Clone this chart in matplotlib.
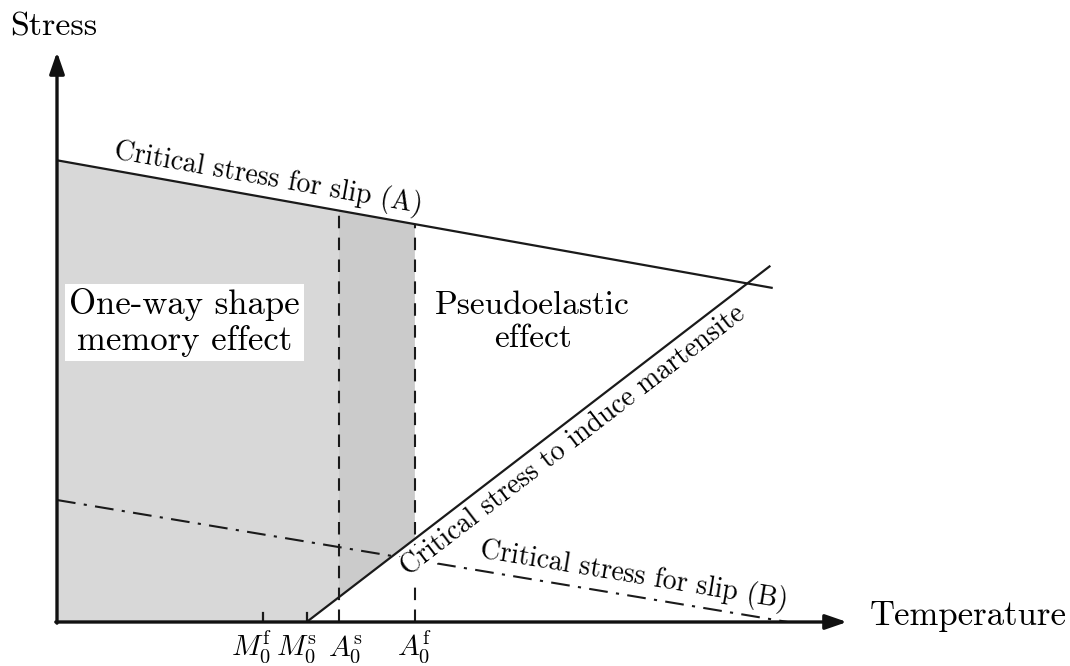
import numpy as np
import matplotlib
matplotlib.use("Agg")
import matplotlib.pyplot as plt
from matplotlib.patches import Polygon

plt.rcParams['mathtext.fontset'] = 'cm'
plt.rcParams['font.family'] = ['cmr10', 'DejaVu Serif']
plt.rcParams['axes.unicode_minus'] = False

# ---- schematic data (temperature / stress, arbitrary units) ----
slipA_T = [0.0, 90.6]
slipA_S = [81.0, 58.6]
mart_T = [31.6, 90.3]
mart_S = [0.0, 62.5]
slipB_T = [0.0, 92.5]
slipB_S = [21.4, 0.0]
char_T = [26.1, 31.6, 35.7, 45.3]          # Mf, Ms, As, Af
char_labels = [r'$M_0^{\mathrm{f}}$', r'$M_0^{\mathrm{s}}$',
               r'$A_0^{\mathrm{s}}$', r'$A_0^{\mathrm{f}}$']
label_shift_px = [-12, -10, 6, 0]

W, H = 1070, 666
fig = plt.figure(figsize=(W / 100, H / 100), dpi=100)
ax = fig.add_axes([57 / W, 44 / H, 790 / W, 570 / H])
ax.set_xlim(0, 100)
ax.set_ylim(0, 100)
ax.set_xticks([])
ax.set_yticks([])
for s in ax.spines.values():
    s.set_visible(False)

Mf, Ms, As, Af = char_T

def sA(t):
    return np.interp(t, slipA_T, slipA_S)

def sM(t):
    return np.interp(t, mart_T, mart_S, left=0.0)

# shaded regions
left_poly = [(0, 0), (0, sA(0)), (As, sA(As)), (As, sM(As)), (Ms, 0)]
mid_poly = [(As, sM(As)), (As, sA(As)), (Af, sA(Af)), (Af, sM(Af))]
ax.add_patch(Polygon(left_poly, closed=True, facecolor='#d8d8d8', edgecolor='none', zorder=1))
ax.add_patch(Polygon(mid_poly, closed=True, facecolor='#cbcbcb', edgecolor='none', zorder=1))

# lines
ax.plot(slipA_T, slipA_S, color='#1a1a1a', lw=1.6, zorder=4, solid_capstyle='butt')
ax.plot(mart_T, mart_S, color='#1a1a1a', lw=1.6, zorder=6, solid_capstyle='butt')
ax.plot(slipB_T, slipB_S, color='#1a1a1a', lw=1.5, zorder=3,
        dashes=(9, 4, 1.5, 4))
for t in (As, Af):
    ax.plot([t, t], [0, sA(t)], color='#1a1a1a', lw=1.5, zorder=4, dashes=(6, 4.5))
for t in (Mf, Ms):
    ax.plot([t, t], [0, 1.5], color='#1a1a1a', lw=1.6, zorder=4)

# axes arrows
arrow = dict(arrowstyle='-|>,head_length=1.3,head_width=0.45', lw=2.4,
             color='#111111', shrinkA=0, shrinkB=0)
ax.annotate('', xy=(0, 100), xytext=(0, -0.2), arrowprops=arrow,
            annotation_clip=False, zorder=8)
ax.annotate('', xy=(100, 0), xytext=(-0.15, 0), arrowprops=arrow,
            annotation_clip=False, zorder=8)

# tick labels
for t, lab, sh in zip(char_T, char_labels, label_shift_px):
    ax.annotate(lab, xy=(t, 0), xytext=(sh * 0.72, -24), textcoords='offset points',
                ha='center', va='baseline', fontsize=21, annotation_clip=False)

fig.canvas.draw()

def along(T, S, frac, dist_px, text, fs, box=False):
    p0 = ax.transData.transform((T[0], S[0]))
    p1 = ax.transData.transform((T[1], S[1]))
    d = p1 - p0
    ang = np.degrees(np.arctan2(d[1], d[0]))
    n = np.array([-d[1], d[0]]) / np.hypot(*d)
    x = T[0] + frac * (T[1] - T[0])
    y = S[0] + frac * (S[1] - S[0])
    off = n * dist_px * 0.72
    kw = {}
    if box:
        kw['bbox'] = dict(facecolor='white', edgecolor='none', pad=0.5)
    ax.annotate(text, xy=(x, y), xytext=(off[0], off[1]), textcoords='offset points',
                ha='center', va='center', rotation=ang, rotation_mode='anchor',
                fontsize=fs, zorder=5, annotation_clip=False, **kw)

along(slipA_T, slipA_S, 0.29, 19, 'Critical stress for slip (A)', 20)
along(mart_T, mart_S, 0.55, -19, 'Critical stress to induce martensite', 20, box=True)
along(slipB_T, slipB_S, 0.785, 21, 'Critical stress for slip (B)', 20)

# region labels
ax.text(16.1, 52.6, 'One-way shape\nmemory effect', ha='center', va='center',
        fontsize=25, linespacing=1.15, zorder=7,
        bbox=dict(facecolor='white', edgecolor='none', pad=3))
ax.text(60.2, 52.6, 'Pseudoelastic\neffect', ha='center', va='center',
        fontsize=24, linespacing=1.15, zorder=7)

# axis titles
fig.text(10 / W, (H - 35) / H, 'Stress', fontsize=24.5, ha='left', va='baseline')
fig.text(870 / W, (H - 625) / H, 'Temperature', fontsize=25, ha='left', va='baseline')

fig.savefig('out.png', dpi=100, facecolor='white')
